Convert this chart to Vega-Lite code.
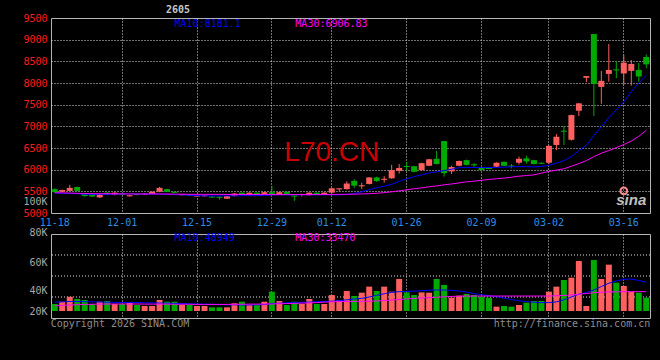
{
  "$schema": "https://vega.github.io/schema/vega-lite/v6.json",
  "background": "#000000",
  "padding": {"left": 22, "top": 4, "right": 10, "bottom": 32},
  "spacing": 21,
  "bounds": "flush",
  "config": {
    "view": {"stroke": "#b4b4b4", "strokeWidth": 1},
    "font": "DejaVu Sans Mono",
    "axis": {"domain": false, "ticks": false, "tickSize": 0, "labelFont": "DejaVu Sans Mono", "labelFontSize": 10, "gridColor": "#dddddd", "gridDash": [1, 1], "gridWidth": 1, "title": null, "labelOverlap": false}
  },
  "datasets": {
    "k": [
      {"d":"11-18","o":5550,"h":5570,"l":5470,"c":5480,"v":30000,"m10":5455,"m30":5470,"vm10":31300,"vm30":28600},
      {"d":"11-19","o":5490,"h":5540,"l":5480,"c":5530,"v":31650,"m10":5455,"m30":5465,"vm10":31500,"vm30":29000},
      {"d":"11-20","o":5510,"h":5650,"l":5500,"c":5580,"v":35200,"m10":5450,"m30":5460,"vm10":31800,"vm30":29300},
      {"d":"11-21","o":5600,"h":5610,"l":5500,"c":5510,"v":33600,"m10":5445,"m30":5455,"vm10":31800,"vm30":29500},
      {"d":"11-24","o":5450,"h":5460,"l":5380,"c":5390,"v":32850,"m10":5430,"m30":5450,"vm10":31700,"vm30":29700},
      {"d":"11-25","o":5440,"h":5450,"l":5370,"c":5380,"v":30000,"m10":5430,"m30":5448,"vm10":31500,"vm30":29800},
      {"d":"11-26","o":5360,"h":5450,"l":5350,"c":5440,"v":31650,"m10":5430,"m30":5445,"vm10":31400,"vm30":29900},
      {"d":"11-27","o":5470,"h":5480,"l":5410,"c":5420,"v":32150,"m10":5430,"m30":5445,"vm10":31300,"vm30":30000},
      {"d":"11-28","o":5420,"h":5480,"l":5410,"c":5470,"v":30000,"m10":5435,"m30":5443,"vm10":31200,"vm30":30000},
      {"d":"12-01","o":5445,"h":5455,"l":5410,"c":5420,"v":30000,"m10":5440,"m30":5442,"vm10":31000,"vm30":30000},
      {"d":"12-02","o":5385,"h":5415,"l":5380,"c":5410,"v":30950,"m10":5440,"m30":5440,"vm10":31100,"vm30":30000},
      {"d":"12-03","o":5440,"h":5450,"l":5405,"c":5415,"v":29300,"m10":5440,"m30":5440,"vm10":31000,"vm30":30000},
      {"d":"12-04","o":5420,"h":5450,"l":5415,"c":5445,"v":28600,"m10":5435,"m30":5440,"vm10":30900,"vm30":29900},
      {"d":"12-05","o":5440,"h":5495,"l":5435,"c":5490,"v":28600,"m10":5435,"m30":5440,"vm10":30800,"vm30":29900},
      {"d":"12-08","o":5490,"h":5600,"l":5480,"c":5580,"v":32850,"m10":5435,"m30":5440,"vm10":30700,"vm30":29900},
      {"d":"12-09","o":5550,"h":5560,"l":5480,"c":5490,"v":31650,"m10":5430,"m30":5438,"vm10":30600,"vm30":29900},
      {"d":"12-10","o":5490,"h":5495,"l":5460,"c":5465,"v":31650,"m10":5425,"m30":5436,"vm10":30400,"vm30":29800},
      {"d":"12-11","o":5410,"h":5440,"l":5405,"c":5435,"v":29300,"m10":5420,"m30":5434,"vm10":30300,"vm30":29800},
      {"d":"12-12","o":5425,"h":5430,"l":5395,"c":5400,"v":29300,"m10":5410,"m30":5432,"vm10":30200,"vm30":29800},
      {"d":"12-15","o":5380,"h":5410,"l":5375,"c":5405,"v":28600,"m10":5400,"m30":5430,"vm10":30000,"vm30":29700},
      {"d":"12-16","o":5385,"h":5415,"l":5380,"c":5410,"v":28600,"m10":5395,"m30":5430,"vm10":29900,"vm30":29700},
      {"d":"12-17","o":5380,"h":5385,"l":5350,"c":5355,"v":27600,"m10":5395,"m30":5430,"vm10":29800,"vm30":29700},
      {"d":"12-18","o":5375,"h":5380,"l":5310,"c":5350,"v":27600,"m10":5395,"m30":5430,"vm10":29600,"vm30":29700},
      {"d":"12-19","o":5330,"h":5395,"l":5325,"c":5390,"v":27600,"m10":5395,"m30":5428,"vm10":29500,"vm30":29700},
      {"d":"12-22","o":5390,"h":5455,"l":5385,"c":5450,"v":30500,"m10":5395,"m30":5428,"vm10":29400,"vm30":29800},
      {"d":"12-23","o":5470,"h":5475,"l":5415,"c":5420,"v":31650,"m10":5400,"m30":5428,"vm10":29300,"vm30":29800},
      {"d":"12-24","o":5410,"h":5475,"l":5405,"c":5470,"v":29300,"m10":5400,"m30":5426,"vm10":29300,"vm30":29900},
      {"d":"12-25","o":5470,"h":5475,"l":5415,"c":5420,"v":29300,"m10":5400,"m30":5426,"vm10":29400,"vm30":29900},
      {"d":"12-26","o":5440,"h":5485,"l":5435,"c":5480,"v":31650,"m10":5405,"m30":5426,"vm10":29600,"vm30":30000},
      {"d":"12-29","o":5480,"h":5620,"l":5430,"c":5440,"v":38800,"m10":5415,"m30":5425,"vm10":30300,"vm30":30000},
      {"d":"12-30","o":5420,"h":5485,"l":5415,"c":5480,"v":32150,"m10":5420,"m30":5425,"vm10":30600,"vm30":30200},
      {"d":"12-31","o":5490,"h":5495,"l":5435,"c":5440,"v":29300,"m10":5420,"m30":5425,"vm10":30800,"vm30":30300},
      {"d":"01-05","o":5405,"h":5410,"l":5280,"c":5380,"v":31650,"m10":5420,"m30":5425,"vm10":31000,"vm30":30400},
      {"d":"01-06","o":5415,"h":5445,"l":5380,"c":5440,"v":30000,"m10":5420,"m30":5425,"vm10":31200,"vm30":30600},
      {"d":"01-07","o":5410,"h":5475,"l":5405,"c":5470,"v":33600,"m10":5420,"m30":5425,"vm10":31400,"vm30":30800},
      {"d":"01-08","o":5470,"h":5475,"l":5415,"c":5420,"v":30000,"m10":5420,"m30":5425,"vm10":31600,"vm30":31000},
      {"d":"01-09","o":5420,"h":5475,"l":5415,"c":5470,"v":30000,"m10":5420,"m30":5426,"vm10":31800,"vm30":31300},
      {"d":"01-12","o":5470,"h":5580,"l":5460,"c":5570,"v":36400,"m10":5420,"m30":5428,"vm10":32000,"vm30":31600},
      {"d":"01-13","o":5545,"h":5570,"l":5500,"c":5570,"v":32850,"m10":5420,"m30":5430,"vm10":32400,"vm30":31700},
      {"d":"01-14","o":5550,"h":5730,"l":5540,"c":5680,"v":39300,"m10":5425,"m30":5432,"vm10":33000,"vm30":31800},
      {"d":"01-15","o":5740,"h":5780,"l":5580,"c":5630,"v":35700,"m10":5450,"m30":5435,"vm10":33600,"vm30":31850},
      {"d":"01-16","o":5615,"h":5700,"l":5550,"c":5640,"v":38100,"m10":5490,"m30":5440,"vm10":34000,"vm30":31900},
      {"d":"01-19","o":5670,"h":5830,"l":5660,"c":5820,"v":42400,"m10":5540,"m30":5445,"vm10":35000,"vm30":32000},
      {"d":"01-20","o":5820,"h":5840,"l":5720,"c":5740,"v":39300,"m10":5580,"m30":5455,"vm10":36200,"vm30":32200},
      {"d":"01-21","o":5765,"h":5850,"l":5700,"c":5790,"v":42400,"m10":5620,"m30":5470,"vm10":37300,"vm30":32400},
      {"d":"01-22","o":5800,"h":6110,"l":5790,"c":5990,"v":38800,"m10":5660,"m30":5490,"vm10":38300,"vm30":32800},
      {"d":"01-23","o":5970,"h":6130,"l":5910,"c":6040,"v":47850,"m10":5730,"m30":5510,"vm10":38800,"vm30":33200},
      {"d":"01-26","o":6085,"h":6180,"l":5980,"c":6060,"v":38300,"m10":5790,"m30":5535,"vm10":39000,"vm30":33600},
      {"d":"01-27","o":6080,"h":6090,"l":5940,"c":5950,"v":36400,"m10":5840,"m30":5560,"vm10":39200,"vm30":34000},
      {"d":"01-28","o":5990,"h":6160,"l":5980,"c":6150,"v":38300,"m10":5880,"m30":5580,"vm10":39500,"vm30":34300},
      {"d":"01-29","o":6090,"h":6250,"l":6080,"c":6240,"v":38100,"m10":5925,"m30":5605,"vm10":39800,"vm30":34500},
      {"d":"01-30","o":6250,"h":6430,"l":6120,"c":6130,"v":47850,"m10":5950,"m30":5625,"vm10":40000,"vm30":34800},
      {"d":"02-02","o":6660,"h":6660,"l":5840,"c":5920,"v":43600,"m10":5980,"m30":5650,"vm10":40000,"vm30":35100},
      {"d":"02-03","o":5960,"h":6090,"l":5900,"c":6060,"v":34500,"m10":6010,"m30":5670,"vm10":39800,"vm30":35400},
      {"d":"02-04","o":6090,"h":6210,"l":6080,"c":6200,"v":35950,"m10":6045,"m30":5695,"vm10":39300,"vm30":35600},
      {"d":"02-05","o":6220,"h":6230,"l":6100,"c":6110,"v":37150,"m10":6050,"m30":5720,"vm10":38500,"vm30":35700},
      {"d":"02-06","o":6125,"h":6150,"l":6040,"c":6100,"v":36400,"m10":6050,"m30":5735,"vm10":37400,"vm30":35700},
      {"d":"02-09","o":6040,"h":6070,"l":5960,"c":5990,"v":35200,"m10":6050,"m30":5755,"vm10":36600,"vm30":35700},
      {"d":"02-10","o":6040,"h":6050,"l":6010,"c":6015,"v":34500,"m10":6050,"m30":5775,"vm10":36000,"vm30":35700},
      {"d":"02-11","o":6070,"h":6170,"l":6060,"c":6160,"v":28100,"m10":6050,"m30":5790,"vm10":35200,"vm30":35700},
      {"d":"02-12","o":6180,"h":6190,"l":6080,"c":6090,"v":28600,"m10":6060,"m30":5805,"vm10":34200,"vm30":35700},
      {"d":"02-13","o":6095,"h":6130,"l":6030,"c":6070,"v":28100,"m10":6065,"m30":5825,"vm10":33200,"vm30":35700},
      {"d":"02-24","o":6160,"h":6300,"l":6120,"c":6250,"v":29300,"m10":6070,"m30":5850,"vm10":32300,"vm30":35700},
      {"d":"02-25","o":6260,"h":6320,"l":6140,"c":6190,"v":30950,"m10":6070,"m30":5865,"vm10":31700,"vm30":35700},
      {"d":"02-26","o":6220,"h":6230,"l":6120,"c":6130,"v":32150,"m10":6065,"m30":5880,"vm10":31300,"vm30":35700},
      {"d":"02-27","o":6160,"h":6165,"l":6130,"c":6135,"v":32150,"m10":6075,"m30":5920,"vm10":31000,"vm30":35700},
      {"d":"03-02","o":6160,"h":6560,"l":6130,"c":6550,"v":38800,"m10":6100,"m30":5960,"vm10":31000,"vm30":35700},
      {"d":"03-03","o":6570,"h":6820,"l":6450,"c":6760,"v":42400,"m10":6150,"m30":5990,"vm10":31500,"vm30":35900},
      {"d":"03-04","o":6900,"h":7010,"l":6570,"c":6875,"v":47150,"m10":6210,"m30":6020,"vm10":33000,"vm30":36100},
      {"d":"03-05","o":6690,"h":7270,"l":6670,"c":7260,"v":48800,"m10":6300,"m30":6080,"vm10":35000,"vm30":36400},
      {"d":"03-06","o":7360,"h":7540,"l":7240,"c":7530,"v":60700,"m10":6440,"m30":6140,"vm10":37000,"vm30":37000},
      {"d":"03-09","o":8120,"h":8160,"l":8020,"c":8160,"v":28600,"m10":6560,"m30":6210,"vm10":38300,"vm30":37500},
      {"d":"03-10","o":9130,"h":9130,"l":7240,"c":7980,"v":61400,"m10":6790,"m30":6300,"vm10":40000,"vm30":38100},
      {"d":"03-11","o":7910,"h":8280,"l":7520,"c":8050,"v":47850,"m10":6990,"m30":6380,"vm10":42500,"vm30":38400},
      {"d":"03-12","o":8210,"h":8900,"l":8030,"c":8300,"v":58100,"m10":7200,"m30":6440,"vm10":44800,"vm30":38600},
      {"d":"03-13","o":8315,"h":8490,"l":8110,"c":8290,"v":45200,"m10":7380,"m30":6510,"vm10":46500,"vm30":38700},
      {"d":"03-16","o":8220,"h":8650,"l":7950,"c":8470,"v":42850,"m10":7560,"m30":6580,"vm10":47600,"vm30":38800},
      {"d":"03-17","o":8280,"h":8530,"l":7940,"c":8440,"v":38800,"m10":7800,"m30":6660,"vm10":47800,"vm30":38800},
      {"d":"03-18","o":8300,"h":8460,"l":8030,"c":8150,"v":38100,"m10":8000,"m30":6770,"vm10":46800,"vm30":38800},
      {"d":"03-19","o":8600,"h":8660,"l":8340,"c":8430,"v":34500,"m10":8181,"m30":6907,"vm10":45500,"vm30":38800}
    ]
  },
  "vconcat": [
    {
      "width": 599,
      "height": 195,
      "data": {"name": "k"},
      "encoding": {
        "x": {
          "field": "d", "type": "ordinal",
          "scale": {"type": "band", "paddingInner": 0, "paddingOuter": 0,
            "domain": ["11-18","11-19","11-20","11-21","11-24","11-25","11-26","11-27","11-28","12-01","12-02","12-03","12-04","12-05","12-08","12-09","12-10","12-11","12-12","12-15","12-16","12-17","12-18","12-19","12-22","12-23","12-24","12-25","12-26","12-29","12-30","12-31","01-05","01-06","01-07","01-08","01-09","01-12","01-13","01-14","01-15","01-16","01-19","01-20","01-21","01-22","01-23","01-26","01-27","01-28","01-29","01-30","02-02","02-03","02-04","02-05","02-06","02-09","02-10","02-11","02-12","02-13","02-24","02-25","02-26","02-27","03-02","03-03","03-04","03-05","03-06","03-09","03-10","03-11","03-12","03-13","03-16","03-17","03-18","03-19"]},
          "axis": {
            "values": ["11-18","12-01","12-15","12-29","01-12","01-26","02-09","03-02","03-16"],
            "bandPosition": 0.5,
            "labelAngle": 0,
            "labelColor": "#2a8ee8",
            "labelPadding": 4,
            "labelOverlap": false,
            "grid": true,
            "gridDash": [1, 2],
            "gridColor": "#e0e0e0",
            "gridOpacity": {"condition": {"test": "datum.value == '11-18'", "value": 0}, "value": 1}
          }
        }
      },
      "layer": [
        {
          "mark": {"type": "rule", "strokeWidth": 1},
          "encoding": {
            "y": {"field": "l", "type": "quantitative",
              "scale": {"domain": [5000, 9500], "nice": false, "zero": false},
              "axis": {
                "values": [5000, 5270, 5500, 6000, 6500, 7000, 7500, 8000, 8500, 9000, 9500],
                "tickCount": 50,
                "labelExpr": "datum.value == 5270 ? '100K' : format(datum.value, 'd')",
                "labelColor": {"condition": {"test": "datum.value == 5270", "value": "#a8a8a8"}, "value": "#ff1a1a"},
                "labelPadding": 4,
                "labelOverlap": false,
                "grid": true,
                "gridDash": [1, 2],
                "gridColor": "#e0e0e0",
                "gridOpacity": {"condition": {"test": "datum.value == 5270 || datum.value == 5000 || datum.value == 9500", "value": 0}, "value": 1}
              }
            },
            "y2": {"field": "h"},
            "color": {"condition": {"test": "datum.c >= datum.o", "value": "#ff5f5f"}, "value": "#00aa00"}
          }
        },
        {
          "mark": {"type": "bar", "size": 6},
          "encoding": {
            "y": {"field": "o", "type": "quantitative"},
            "y2": {"field": "c"},
            "color": {"condition": {"test": "datum.c >= datum.o", "value": "#ff5f5f"}, "value": "#00aa00"}
          }
        },
        {
          "mark": {"type": "line", "color": "#0000ff", "strokeWidth": 1},
          "encoding": {"y": {"field": "m10", "type": "quantitative"}}
        },
        {
          "mark": {"type": "line", "color": "#ff00ff", "strokeWidth": 1},
          "encoding": {"y": {"field": "m30", "type": "quantitative"}}
        },
        {
          "data": {"values": [{}]},
          "mark": {"type": "text", "text": "L70.CN", "font": "Liberation Sans", "fontSize": 28, "color": "#cc0000", "align": "center", "baseline": "alphabetic"},
          "encoding": {"x": {"datum": "01-12", "type": "ordinal"}, "y": {"datum": 6200, "type": "quantitative"}}
        },
        {
          "data": {"values": [{}]},
          "mark": {"type": "text", "text": "MA10:8181.1", "fontSize": 10, "color": "#0000ff", "align": "left", "baseline": "middle"},
          "encoding": {"x": {"datum": "12-10", "type": "ordinal"}, "y": {"datum": 9368, "type": "quantitative"}}
        },
        {
          "data": {"values": [{}]},
          "mark": {"type": "text", "text": "MA30:6906.83", "fontSize": 10, "color": "#ff00ff", "align": "left", "baseline": "middle", "dx": 1},
          "encoding": {"x": {"datum": "01-05", "type": "ordinal"}, "y": {"datum": 9368, "type": "quantitative"}}
        },
        {
          "data": {"values": [{}]},
          "mark": {"type": "text", "text": "2605", "fontSize": 10, "fontWeight": "bold", "color": "#c8c8c8", "align": "left", "baseline": "middle", "dx": -1},
          "encoding": {"x": {"datum": "12-09", "type": "ordinal"}, "y": {"datum": 9685, "type": "quantitative"}}
        },
        {
          "data": {"values": [{}]},
          "mark": {"type": "point", "shape": "circle", "size": 45, "filled": false, "stroke": "#ff8a8a", "strokeWidth": 2, "opacity": 1},
          "encoding": {"x": {"datum": "03-16", "type": "ordinal"}, "y": {"datum": 5510, "type": "quantitative"}}
        },
        {
          "data": {"values": [{}]},
          "mark": {"type": "text", "text": "sina", "font": "Liberation Sans", "fontSize": 15, "fontStyle": "italic", "fontWeight": "bold", "color": "#c0c0c0", "align": "center", "baseline": "middle"},
          "encoding": {"x": {"datum": "03-17", "type": "ordinal"}, "y": {"datum": 5290, "type": "quantitative"}}
        }
      ]
    },
    {
      "width": 599,
      "height": 84,
      "data": {"name": "k"},
      "layer": [
        {
          "data": {"values": [{"g": 35000}, {"g": 50000}, {"g": 65000}]},
          "mark": {"type": "rule", "color": "#e0e0e0", "strokeDash": [1, 2], "strokeWidth": 1},
          "encoding": {"y": {"field": "g", "type": "quantitative"}}
        },
        {
          "mark": {"type": "bar", "size": 6},
          "encoding": {
            "x": {
              "field": "d", "type": "ordinal",
              "scale": {"type": "band", "paddingInner": 0, "paddingOuter": 0,
                "domain": ["11-18","11-19","11-20","11-21","11-24","11-25","11-26","11-27","11-28","12-01","12-02","12-03","12-04","12-05","12-08","12-09","12-10","12-11","12-12","12-15","12-16","12-17","12-18","12-19","12-22","12-23","12-24","12-25","12-26","12-29","12-30","12-31","01-05","01-06","01-07","01-08","01-09","01-12","01-13","01-14","01-15","01-16","01-19","01-20","01-21","01-22","01-23","01-26","01-27","01-28","01-29","01-30","02-02","02-03","02-04","02-05","02-06","02-09","02-10","02-11","02-12","02-13","02-24","02-25","02-26","02-27","03-02","03-03","03-04","03-05","03-06","03-09","03-10","03-11","03-12","03-13","03-16","03-17","03-18","03-19"]},
              "axis": {
                "values": ["11-18","12-01","12-15","12-29","01-12","01-26","02-09","03-02","03-16"],
                "bandPosition": 0.5,
                "labels": false,
                "grid": true,
                "gridDash": [1, 2],
                "gridColor": "#e0e0e0",
                "gridOpacity": {"condition": {"test": "datum.value == '11-18'", "value": 0}, "value": 1}
              }
            },
            "y": {"field": "v", "type": "quantitative",
              "scale": {"domain": [20000, 80000], "nice": false, "zero": false},
              "axis": {
                "values": [20000, 40000, 60000, 80000],
                "tickCount": 50,
                "labelExpr": "format(datum.value / 1000, 'd') + 'K'",
                "labelColor": "#a8a8a8",
                "labelPadding": 4,
                "labelOverlap": false,
                "labelOffset": {"condition": [{"test": "datum.value == 20000", "value": -7}, {"test": "datum.value == 80000", "value": -2}], "value": 0},
                "grid": false
              }
            },
            "y2": {"datum": 25000},
            "color": {"condition": {"test": "datum.c >= datum.o", "value": "#ff5f5f"}, "value": "#00aa00"}
          }
        },
        {
          "mark": {"type": "line", "color": "#0000ff", "strokeWidth": 1},
          "encoding": {"x": {"field": "d", "type": "ordinal"}, "y": {"field": "vm10", "type": "quantitative"}}
        },
        {
          "mark": {"type": "line", "color": "#ff00ff", "strokeWidth": 1},
          "encoding": {"x": {"field": "d", "type": "ordinal"}, "y": {"field": "vm30", "type": "quantitative"}}
        },
        {
          "data": {"values": [{}]},
          "mark": {"type": "text", "text": "MA10:48949", "fontSize": 10, "color": "#0000ff", "align": "left", "baseline": "middle"},
          "encoding": {"x": {"datum": "12-10", "type": "ordinal"}, "y": {"datum": 77500, "type": "quantitative"}}
        },
        {
          "data": {"values": [{}]},
          "mark": {"type": "text", "text": "MA30:33470", "fontSize": 10, "color": "#ff00ff", "align": "left", "baseline": "middle", "dx": 1},
          "encoding": {"x": {"datum": "01-05", "type": "ordinal"}, "y": {"datum": 77500, "type": "quantitative"}}
        },
        {
          "data": {"values": [{}]},
          "mark": {"type": "text", "text": "Copyright 2026 SINA.COM", "fontSize": 10, "color": "#8c8c8c", "align": "left", "baseline": "middle", "dx": -4},
          "encoding": {"x": {"datum": "11-18", "type": "ordinal"}, "y": {"datum": 15700, "type": "quantitative"}}
        },
        {
          "data": {"values": [{}]},
          "mark": {"type": "text", "text": "http://finance.sina.com.cn", "fontSize": 10, "color": "#8c8c8c", "align": "right", "baseline": "middle", "dx": 4},
          "encoding": {"x": {"datum": "03-19", "type": "ordinal"}, "y": {"datum": 15700, "type": "quantitative"}}
        }
      ]
    }
  ]
}
